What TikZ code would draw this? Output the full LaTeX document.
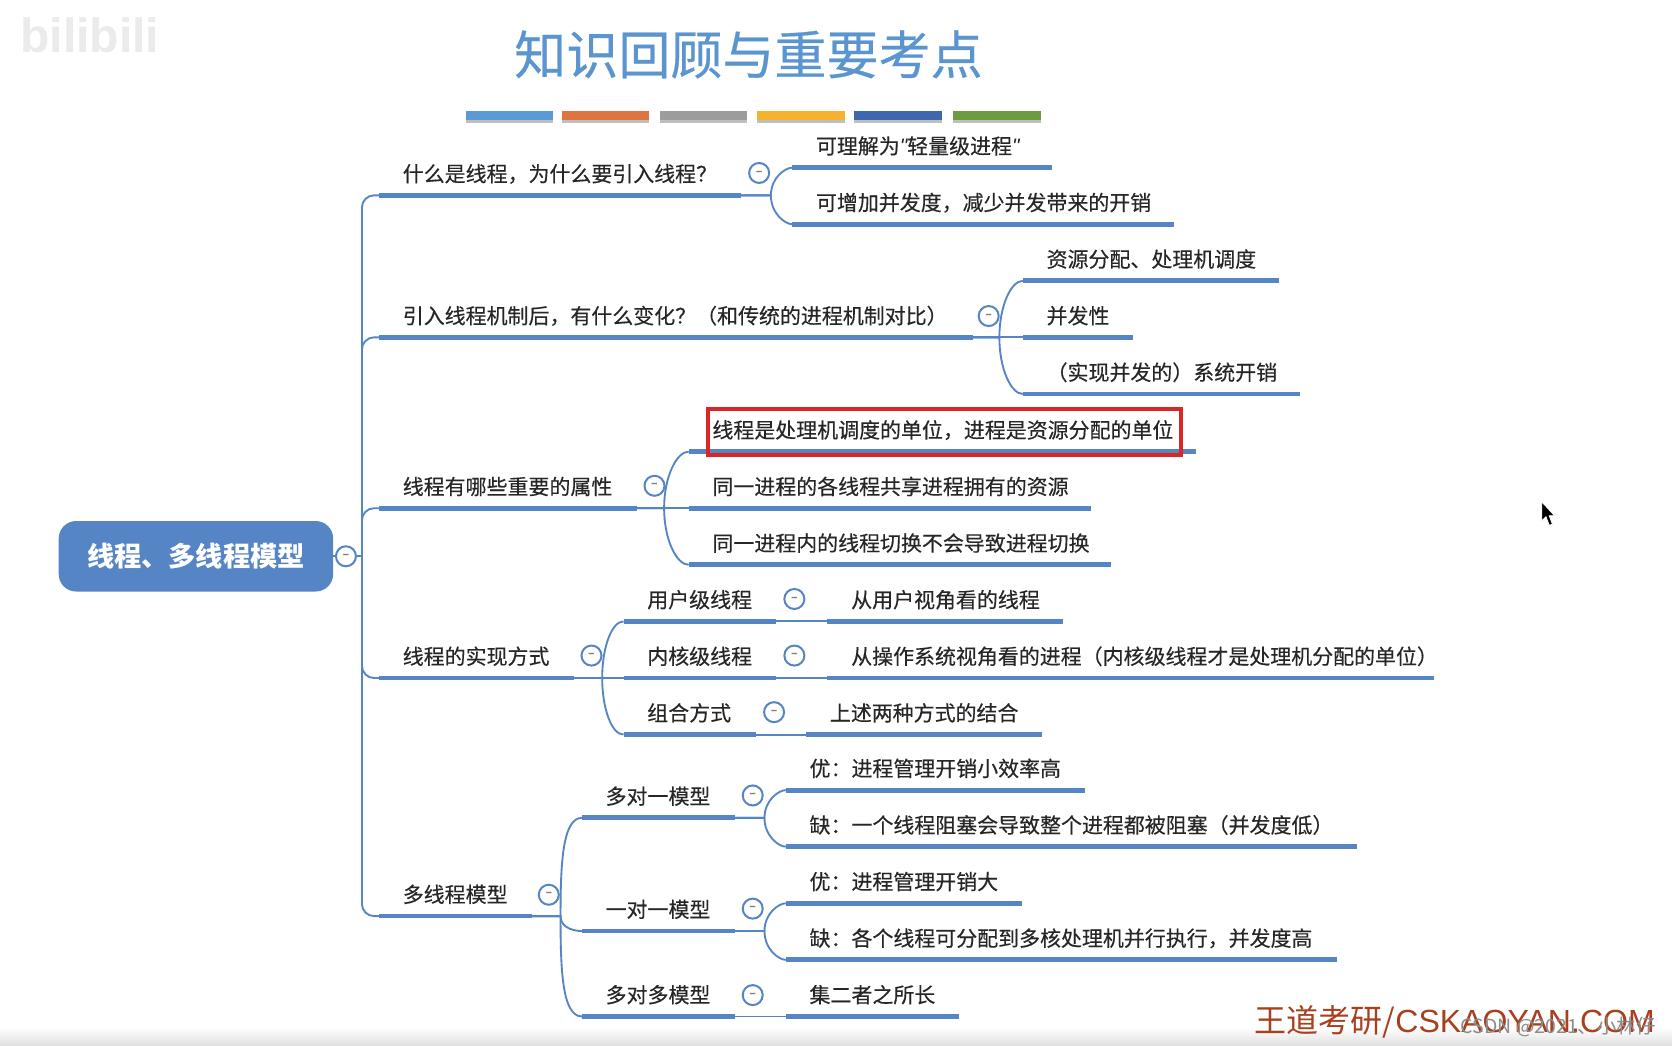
\documentclass[tikz,border=0pt]{standalone}
\usepackage{fontspec}
\setmainfont{Noto Sans CJK SC}
\newfontfamily\markfont{Liberation Sans}
\usepackage{tikz}
\definecolor{mapblue}{HTML}{5585C5}
\definecolor{titleblue}{HTML}{5B95CF}
\definecolor{wdred}{HTML}{A8401F}
\definecolor{markred}{HTML}{DC2626}
\tikzstyle{topic}=[anchor=west,inner sep=0pt,font=\fontsize{15.7}{18}\selectfont\addfontfeature{FakeBold=0.3},text=black!85,text height=12pt,text depth=3pt]
\tikzstyle{bar}=[draw=mapblue,line width=3.6pt]
\tikzstyle{link}=[draw=mapblue,line width=1.4pt]
\tikzstyle{fold}=[circle,draw=mapblue,fill=white,line width=1.5pt,minimum size=15pt,inner sep=0pt,text=black!50,font=\fontsize{9}{9}\selectfont\bfseries]
\tikzstyle{rootbox}=[rectangle,rounded corners=13pt,fill=mapblue,text=white,minimum width=205.6pt,minimum height=52.8pt,inner sep=0pt,font=\fontsize{20.4}{24}\selectfont\bfseries]

\begin{document}
\begin{tikzpicture}[x=0.8pt,y=-0.8pt]

    \useasboundingbox (0,0) rectangle (1566,978.75);
    \fill[white] (0,0) rectangle (1566,978.75);
    \shade[top color=white,bottom color=black!12] (0,962) rectangle (1566,978.75);

    \node[text=black!8,inner sep=0pt,font=\fontsize{36}{36}\selectfont\bfseries\markfont] (bili) at (84,33) {bilibili};
    \node[inner sep=0pt,text=titleblue,font=\fontsize{39}{44}\selectfont\addfontfeature{FakeBold=0.4}] (title) at (701,51) {知识回顾与重要考点};

    \foreach \xa/\xb/\col in {436/518/5B9BD5, 526/608/DC7540, 618/700/9C9C9C, 709/791/F5B22F, 800/882/3F67AE, 893/975/6C9B40}{
        \definecolor{stripe}{HTML}{\col}
        \fill[black!25] (\xa,107) rectangle (\xb,115);
        \fill[stripe] (\xa,104) rectangle (\xb,112);
    }

    \node[rootbox] (root) at (183.5,521) {线程、多线程模型};

    \foreach \name/\xa/\xb/\y/\txt in {
        a/355/694/183/{什么是线程，为什么要引入线程？},
        a1/742/985/157/{可理解为{\markfont\itshape"}轻量级进程{\markfont\itshape"}},
        a2/742/1100/210/{可增加并发度，减少并发带来的开销},
        b/355/911/316/{引入线程机制后，有什么变化？（和传统的进程机制对比）},
        b1/958/1198/263/{资源分配、处理机调度},
        b2/958/1061/316/{并发性},
        b3/958/1218/369/{（实现并发的）系统开销},
        c/355/597/476/{线程有哪些重要的属性},
        c1/645/1120/423/{线程是处理机调度的单位，进程是资源分配的单位},
        c2/645/1022/476/{同一进程的各线程共享进程拥有的资源},
        c3/645/1041/529/{同一进程内的线程切换不会导致进程切换},
        d/355/538/635/{线程的实现方式},
        d1/584/727/582/{用户级线程},
        d2/584/727/635/{内核级线程},
        d3/584/708/688/{组合方式},
        d1a/775/996/582/{从用户视角看的线程},
        d2a/775/1343/635/{从操作系统视角看的进程（内核级线程才是处理机分配的单位）},
        d3a/755/976/688/{上述两种方式的结合},
        e/355/498/858/{多线程模型},
        e1/545/688/766/{多对一模型},
        e2/545/688/872/{一对一模型},
        e3/545/688/952/{多对多模型},
        e1a/736/1016/740/{优：进程管理开销小效率高},
        e1b/736/1271/793/{缺：一个线程阻塞会导致整个进程都被阻塞（并发度低）},
        e2a/736/957/846/{优：进程管理开销大},
        e2b/736/1252/899/{缺：各个线程可分配到多核处理机并行执行，并发度高},
        e3a/736/898/952/{集二者之所长}}{
        \coordinate (\name-l) at (\xa,\y);
        \coordinate (\name-r) at (\xb,\y);
        \draw[bar] (\name-l) -- (\name-r);
        \node[topic] (\name) at (\xa+22,\y-18.5) {\txt};
    }

    % junctions behind the brackets
    \foreach \name/\x in {a/722, b/936, c/622, d/564, e/525, e1/716, e2/716}
        \coordinate (\name-j) at (\x,0 |- \name-r);

    \foreach \source/\dest/\dir in {a/a1/90, a/a2/-90, b/b1/90, b/b2/0, b/b3/-90, c/c1/90, c/c2/0, c/c3/-90, d/d1/90, d/d2/0, d/d3/-90, e/e1/90, e/e2/-90, e/e3/-90, e1/e1a/90, e1/e1b/-90, e2/e2a/90, e2/e2b/-90}
        \draw[link] (\source-r) -- (\source-j) to[out=\dir,in=180,out looseness=1.3,in looseness=0.5] (\dest-l);

    \foreach \source/\dest in {d1/d1a, d2/d2a, d3/d3a, e3/e3a}
        \draw[link] (\source-r) -- (\dest-l);

    \coordinate (root-j) at (339,521);
    \draw[link] (root) -- (root-j);
    \foreach \dest in {a,b,c,d,e}
        \draw[link,rounded corners=9pt] (root-j) |- (\dest-l);

    \foreach \name/\x/\y in {root/324/521, a/711/162, b/926/296, c/613/455, d/554/614, e/514/838, d1/744/561, d2/744/614, d3/725/667, e1/705/745, e2/705/851, e3/705/932}
        \node[fold] (\name-c) at (\x,\y) {--};

    \node[draw=markred,line width=3.2pt,minimum width=354.4pt,minimum height=34.4pt,inner sep=0pt] (mark) at (884.5,404.5) {};

    \node[anchor=west,inner sep=0pt,text=wdred,font=\fontsize{24}{28}\selectfont] (wd) at (1175,957) {王道考研/{\markfont CSKAOYAN.COM}};
    \node[anchor=west,inner sep=0pt,text=black!45,font=\fontsize{14.6}{16}\selectfont] (csdn) at (1368,962) {CSDN @2021、小林仔};

    % mouse pointer
    \draw[fill=black,draw=white,line width=0.6pt] (1444,470) -- (1444,488) -- (1448,484) -- (1451,492) -- (1454,491) -- (1451,483) -- (1456,483) -- cycle;

\end{tikzpicture}
\end{document}
